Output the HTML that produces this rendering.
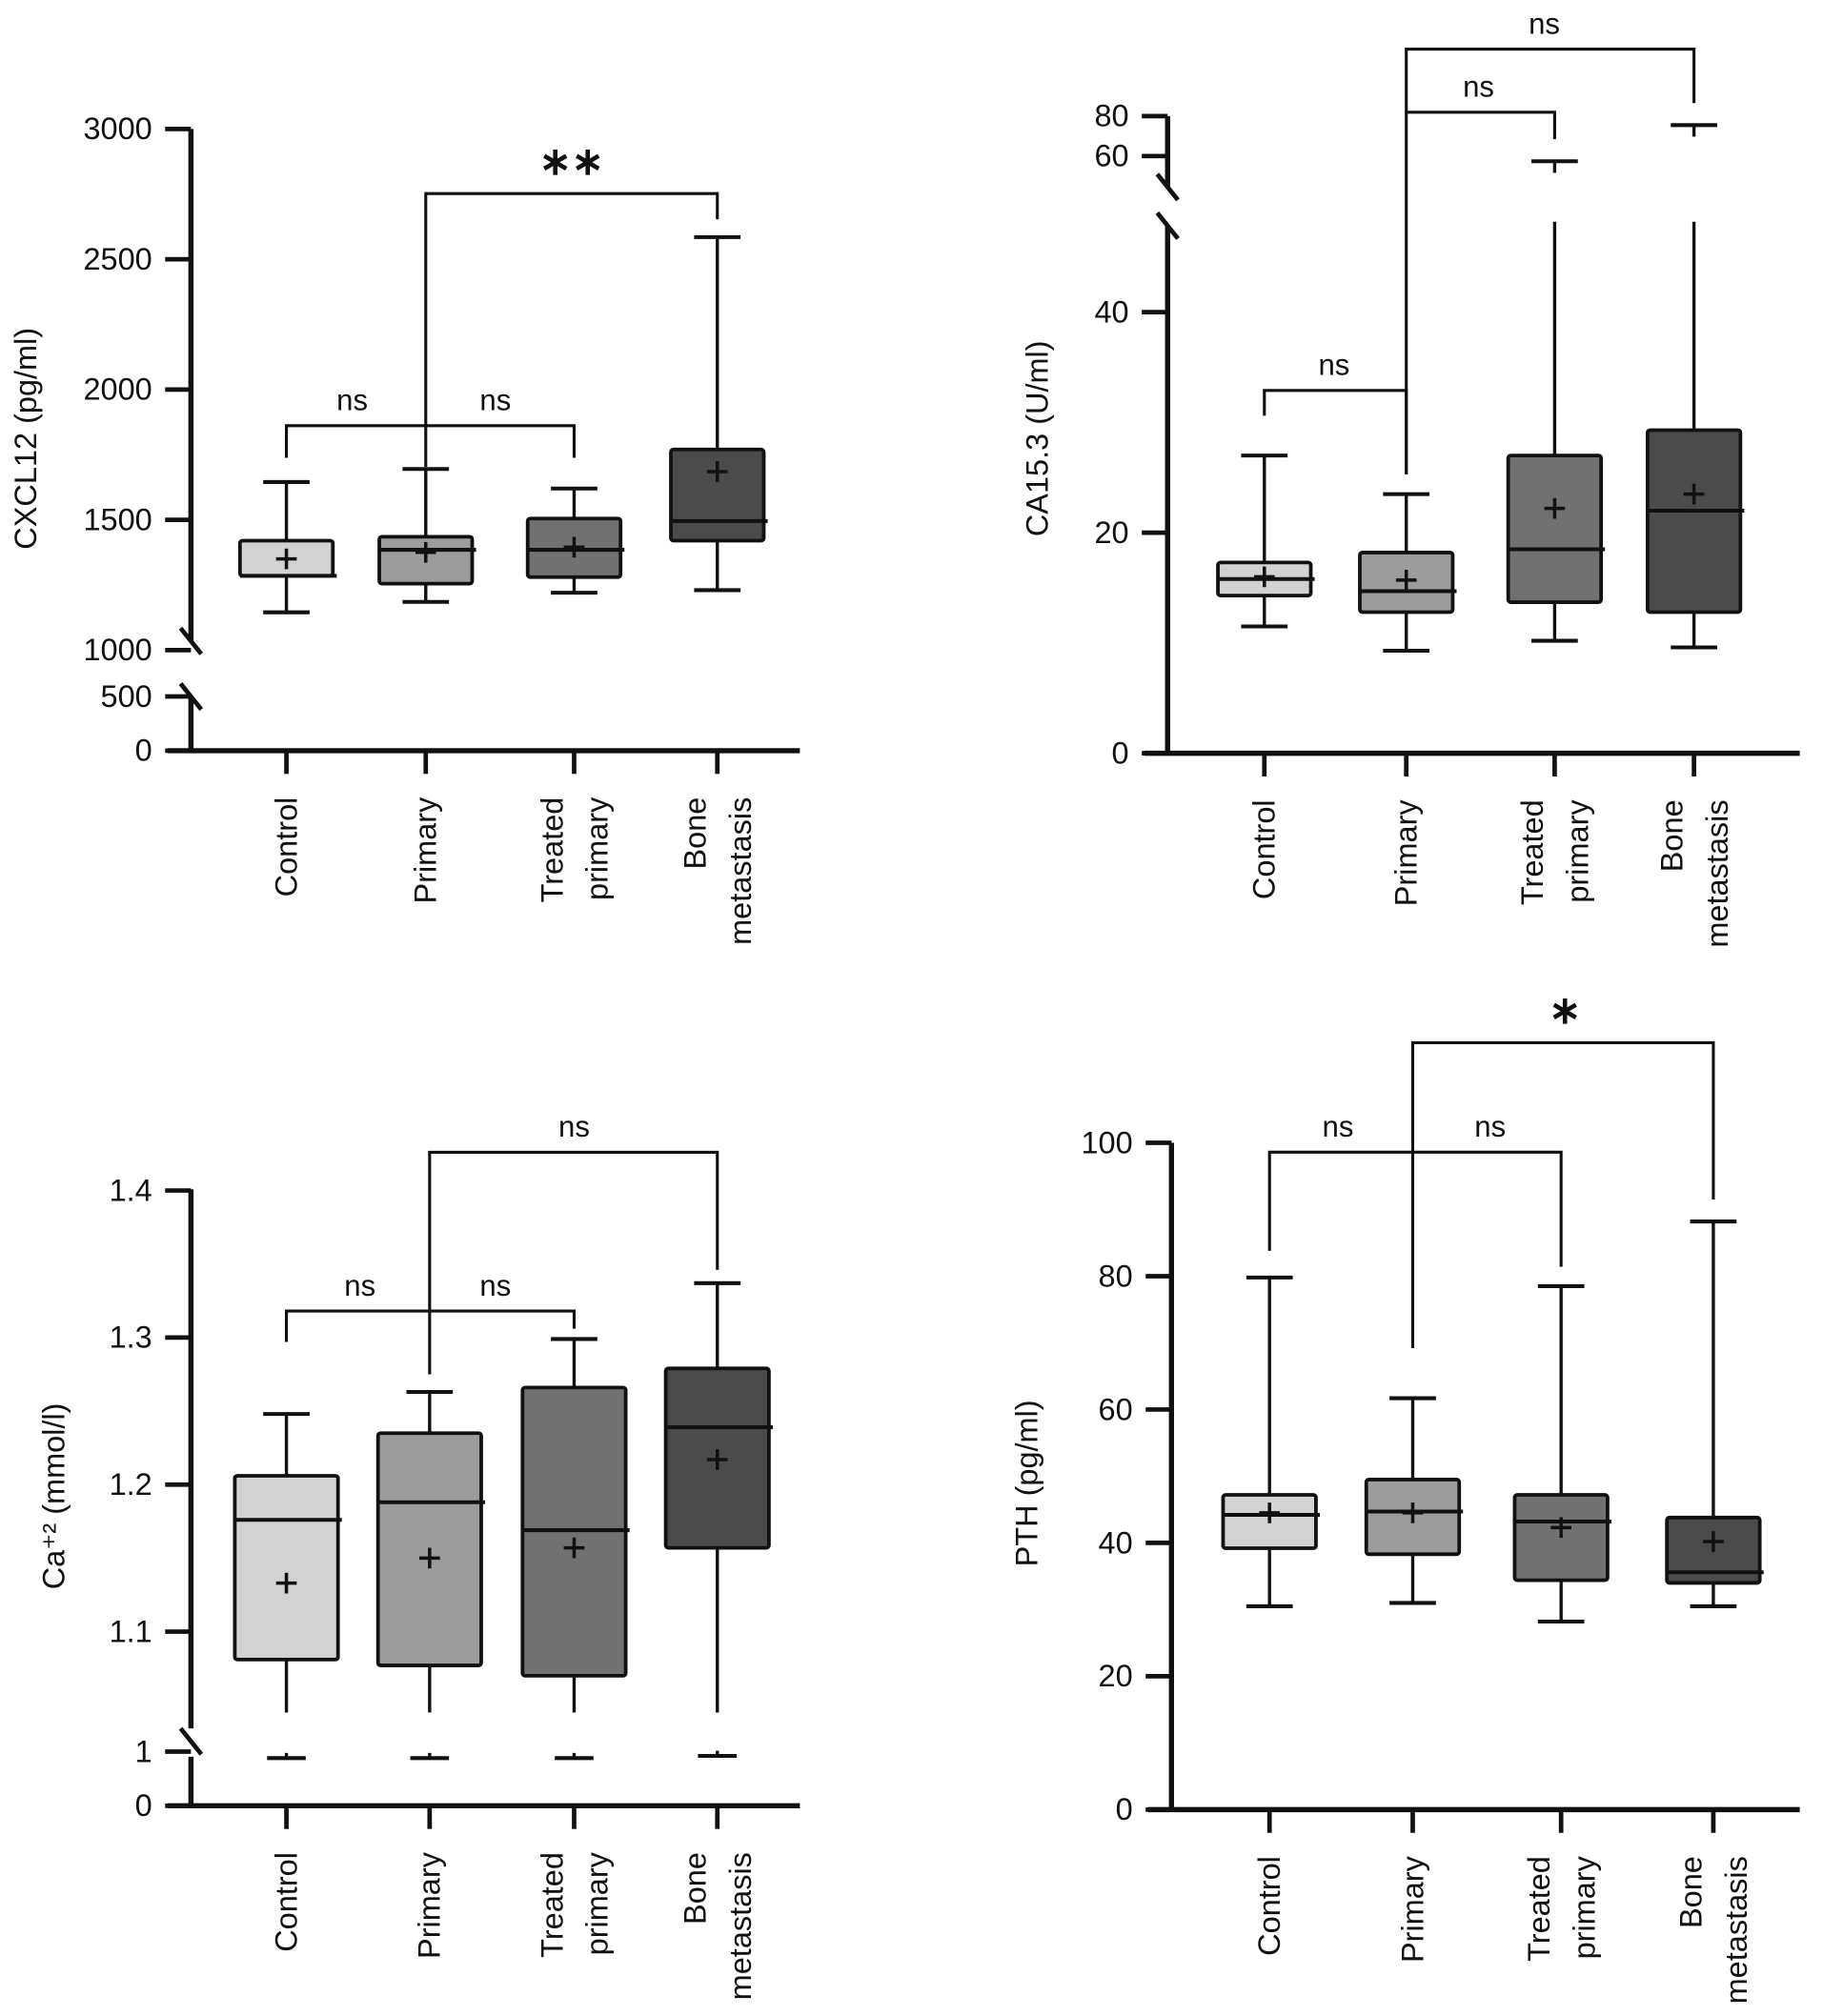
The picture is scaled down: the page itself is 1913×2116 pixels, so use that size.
<!DOCTYPE html>
<html><head><meta charset="utf-8"><style>
html,body{margin:0;padding:0;background:#fff}
svg{display:block}
text{font-family:"Liberation Sans",Arial,sans-serif;fill:#111}
</style></head><body>
<svg id="fig" width="1913" height="2116" viewBox="0 0 1413 1563" preserveAspectRatio="none" xmlns="http://www.w3.org/2000/svg"></svg>
<script>
const categories = ["Control","Primary","Treated primary","Bone metastasis"];
const fills = ["#d2d2d2","#9c9c9c","#717171","#4b4b4b"];
// Panel A: CXCL12
const cxMin=[1145,1185,1220,1230], cxQ1=[1285,1255,1280,1420], cxMed=[1285,1385,1385,1495], cxQ3=[1420,1435,1505,1770], cxMax=[1645,1695,1620,2585], cxMean=[1350,1375,1395,1685];
const cxTicks=[3000,2500,2000,1500,1000,500,0];
// Panel B: CA15.3
const caMin=[11.5,9.3,10.2,9.6], caQ1=[14.3,12.8,13.7,12.8], caMed=[15.8,14.7,18.5,22], caQ3=[17.3,18.2,27,29.3], caMax=[27,23.5,57.4,75.5], caMean=[16,15.7,22.2,23.5];
const caTicks=[80,60,40,20,0];
// Panel C: Ca+2
const ccMin=[0.88,0.88,0.88,0.92], ccQ1=[1.081,1.077,1.070,1.157], ccMed=[1.176,1.188,1.169,1.239], ccQ3=[1.206,1.235,1.266,1.279], ccMax=[1.248,1.263,1.299,1.337], ccMean=[1.133,1.150,1.157,1.217];
const ccTicks=[1.4,1.3,1.2,1.1,1,0];
// Panel D: PTH
const ptMin=[30.5,31,28.2,30.5], ptQ1=[39.2,38.3,34.4,34], ptMed=[44.2,44.7,43.2,35.6], ptQ3=[47.2,49.5,47.2,43.8], ptMax=[79.8,61.7,78.5,88.2], ptMean=[44.5,44.5,42.3,40.2];
const ptTicks=[100,80,60,40,20,0];

const NS="http://www.w3.org/2000/svg", svg=document.getElementById('fig');
function el(tag,attrs,parent,txt){const e=document.createElementNS(NS,tag);for(const k in attrs)e.setAttribute(k,attrs[k]);if(txt!==undefined)e.textContent=txt;(parent||svg).appendChild(e);return e;}
function line(g,x1,y1,x2,y2,w){return el('line',{x1,y1,x2,y2,stroke:'#111','stroke-width':w||2.5},g);}

function panel(o){
  const g=el('g',{});
  
  
  const Y=o.y, X=i=>o.xs[i];
  const ax=el('g',{},g);
  
  
  if(o.breakY){
    line(ax,o.ax,o.top,o.ax,o.breakY[0],4);
    line(ax,o.ax,o.breakY[1],o.ax,o.x0y,4);
    o.slashes.forEach(s=>line(ax,o.ax-8,s-10,o.ax+8,s+10,3.5));
  } else line(ax,o.ax,o.top,o.ax,o.x0y,4);
  o.ticks.forEach(t=>{
    const y=Y(t);
    line(ax,o.ax-20,y,o.ax,y,3.5);
    const tl=el('text',{x:o.ax-30,y:y+8,'text-anchor':'end','font-size':24},ax,String(t));
    
    
  });
  const xa=el('g',{},g);
  
  
  line(xa,o.ax-18,o.x0y,o.xEnd,o.x0y,4);
  categories.forEach((c,i)=>{
    line(xa,X(i),o.x0y,X(i),o.x0y+18,3.5);
    const parts=c.split(' ');
    parts.forEach((p,j)=>{
      const xx=X(i)+(parts.length===1?8:(j===0?-9:26));
      const t=el('text',{x:0,y:0,'text-anchor':'end','font-size':24,transform:`translate(${xx},${o.x0y+36}) rotate(-90)`},xa,p);
      
      
    });
  });
  const yl=el('text',{x:0,y:0,'text-anchor':'middle','font-size':24,transform:`translate(${o.ylx},${o.yly}) rotate(-90)`},g,o.ylabel);
  
  
  const hw=o.bw/2;
  categories.forEach((c,i)=>{
    const b=el('g',{},g);
    
    
    const x=X(i);
    if(o.upperGap && o.d.max[i]>o.upperGap[0]){
      line(b,x,Y(o.d.q3[i]),x,Y(o.upperGap[0]));
      line(b,x,Y(o.d.max[i]),x,Y(o.d.max[i])+9);
    } else line(b,x,Y(o.d.q3[i]),x,Y(o.d.max[i]));
    line(b,x-18,Y(o.d.max[i]),x+18,Y(o.d.max[i]),3);
    if(o.lowerGap){
      line(b,x,Y(o.d.q1[i]),x,Y(o.lowerGap));
      line(b,x,Y(o.d.min[i]),x,Y(o.d.min[i])-4);
      line(b,x-15,Y(o.d.min[i]),x+15,Y(o.d.min[i]),3);
    } else {
      line(b,x,Y(o.d.q1[i]),x,Y(o.d.min[i]));
      line(b,x-18,Y(o.d.min[i]),x+18,Y(o.d.min[i]),3);
    }
    el('rect',{x:x-hw,y:Y(o.d.q3[i]),width:o.bw,height:Y(o.d.q1[i])-Y(o.d.q3[i]),fill:fills[i],stroke:'#111','stroke-width':2.8,rx:2},b);
    line(b,x-hw,Y(o.d.med[i]),x+hw+3,Y(o.d.med[i]),3);
    const m=Y(o.d.mean[i]);
    line(b,x-8,m,x+8,m,2.6);line(b,x,m-8,x,m+8,2.6);
  });
  o.brackets.forEach(br=>{
    const bg=el('g',{},g);
    
    
    const xa_=X(br[0]),xb=X(br[1]),y=Y(br[2]);
    el('polyline',{points:`${xa_},${Y(br[3])} ${xa_},${y} ${xb},${y} ${xb},${Y(br[4])}`,fill:'none',stroke:'#111','stroke-width':2.3},bg);
    const big=br[5]!=='ns';
    const lt=el('text',{x:br[6],y:big?y-15:y-12,'text-anchor':'middle','font-size':big?30:23,'font-weight':big?'bold':'normal'},bg,br[5]);
    
    
  });
}

panel({name:'cxcl12-panel',ax:148,top:100,x0y:582,xEnd:620,xs:[222,330,445,556],bw:72,
  y:v=>v>=1000?504-(v-1000)*0.202:582-v*0.084,breakY:[497,540],slashes:[497,540],ticks:cxTicks,
  ylabel:'CXCL12 (pg/ml)',ylx:28,yly:340,d:{min:cxMin,q1:cxQ1,med:cxMed,q3:cxQ3,max:cxMax,mean:cxMean},
  brackets:[[1,3,2752,1703,2653,'∗∗',443],[0,2,1861,1738,1738,'ns',273],[2,2,1861,1861,1861,'ns',384]]});
panel({name:'ca153-panel',ax:905,top:90,x0y:584,xEnd:1395,xs:[980,1090,1205,1313],bw:72,
  y:v=>v<=52?584-v*8.55:121-(v-60)*1.55,breakY:[145,175],slashes:[145,175],ticks:caTicks,upperGap:[48.2],
  ylabel:'CA15.3 (U/ml)',ylx:812,yly:340,d:{min:caMin,q1:caQ1,med:caMed,q3:caQ3,max:caMax,mean:caMean},
  brackets:[[0,1,32.9,30.6,25.3,'ns',1034],[1,2,81.9,25.3,68.4,'ns',1146],[1,3,113.5,81.9,86.5,'ns',1197]]});
panel({name:'calcium-panel',ax:148,top:922,x0y:1400,xEnd:620,xs:[222,333,445,556],bw:80,
  y:v=>v>=1.04?1265-(v-1.1)*1140:1400-v*42,breakY:[1340,1362],slashes:[1350],ticks:ccTicks,lowerGap:1.045,
  ylabel:'Ca⁺² (mmol/l)',ylx:50,yly:1160,d:{min:ccMin,q1:ccQ1,med:ccMed,q3:ccQ3,max:ccMax,mean:ccMean},
  brackets:[[1,3,1.426,1.275,1.346,'ns',445],[0,2,1.318,1.297,1.306,'ns',279],[2,2,1.318,1.318,1.318,'ns',384]]});
panel({name:'pth-panel',ax:908,top:886,x0y:1403,xEnd:1395,xs:[984,1095,1210,1328],bw:72,
  y:v=>1403-v*5.17,ticks:ptTicks,
  ylabel:'PTH (pg/ml)',ylx:804,yly:1150,d:{min:ptMin,q1:ptQ1,med:ptMed,q3:ptQ3,max:ptMax,mean:ptMean},
  brackets:[[1,3,115,69.2,91.5,'∗',1213],[0,2,98.6,83.8,81.4,'ns',1037],[2,2,98.6,98.6,98.6,'ns',1155]]});
</script>
</body></html>
